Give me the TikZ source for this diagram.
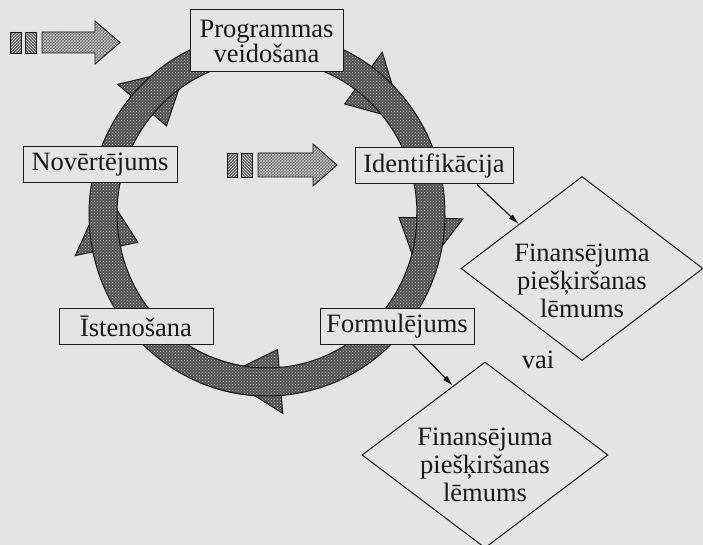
\documentclass[tikz,border=0pt]{standalone}
\usepackage{fontspec}
\setmainfont{Liberation Serif}
\usetikzlibrary{shapes.geometric,patterns,arrows.meta,calc}
\definecolor{bgc}{RGB}{228,228,228}
\definecolor{ink}{RGB}{25,25,25}
\def\RX{164}\def\RY{168}\def\W{14}\def\H{32}\def\L{20}
\newcommand\ringseg[2]{%
  \pgfmathsetmacro\ox{\RX+\W}\pgfmathsetmacro\oy{\RY+\W}%
  \pgfmathsetmacro\ix{\RX-\W}\pgfmathsetmacro\iy{\RY-\W}%
  \pgfmathsetmacro\hx{\RX+\H}\pgfmathsetmacro\hy{\RY+\H}%
  \pgfmathsetmacro\jx{\RX-\H}\pgfmathsetmacro\jy{\RY-\H}%
  \pgfmathsetmacro\te{#2+\L}%
  \path[ringsty] (#1:\ox\space and \oy) arc[start angle=#1, end angle=#2, x radius=\ox, y radius=\oy]
    -- (#2:\hx\space and \hy) -- (\te:\RX\space and \RY) -- (#2:\jx\space and \jy)
    -- (#2:\ix\space and \iy) arc[start angle=#2, end angle=#1, x radius=\ix, y radius=\iy];
}
\newcommand\ringband[2]{%
  \pgfmathsetmacro\ox{\RX+\W}\pgfmathsetmacro\oy{\RY+\W}%
  \pgfmathsetmacro\ix{\RX-\W}\pgfmathsetmacro\iy{\RY-\W}%
  \path[ringfillonly] (#1:\ox\space and \oy) arc[start angle=#1, end angle=#2, x radius=\ox, y radius=\oy]
    -- (#2:\ix\space and \iy) arc[start angle=#2, end angle=#1, x radius=\ix, y radius=\iy] -- cycle;
  \draw[ink, line width=1pt] (#1:\ox\space and \oy) arc[start angle=#1, end angle=#2, x radius=\ox, y radius=\oy];
  \draw[ink, line width=1pt] (#1:\ix\space and \iy) arc[start angle=#1, end angle=#2, x radius=\ix, y radius=\iy];
}
\begin{document}
\begin{tikzpicture}[x=1pt,y=-1pt,
  ringsty/.style={draw=ink, line width=1pt, preaction={fill=black!68}, pattern=crosshatch dots, pattern color=black!25, line join=miter},
  ringfillonly/.style={preaction={fill=black!68}, pattern=crosshatch dots, pattern color=black!25},
  box/.style={draw=ink, line width=1pt, fill=bgc, minimum width=154pt, minimum height=36pt, inner sep=0pt,
    font=\fontsize{26.5}{25}\selectfont, text=ink, align=center},
  dia/.style={draw=ink, line width=1pt, diamond, inner sep=0pt},
  dtext/.style={font=\fontsize{26.5}{28}\selectfont, text=ink, align=center, inner sep=0pt},
  conn/.style={draw=ink, line width=1.2pt, -{Latex[length=11pt,width=6pt]}},
  icon/.style={draw=ink, line width=0.9pt},
  iconfill/.style={fill=black!60}]
\useasboundingbox (0,0) rectangle (703,545);
\fill[bgc] (0,0) rectangle (703,545);

% ring of curved arrows
\begin{scope}[shift={(267,214)}]
  \ringseg{84.4}{168}
  \ringseg{167}{220.4}
  \ringseg{219.4}{306}
  \ringseg{305}{361.4}
  \ringseg{360.4}{445.4}
  \ringband{84.4}{112}
\end{scope}

% icon arrows
\fill[iconfill] (10,32) rectangle (21,53);
\fill[pattern=north east lines, pattern color=black!15] (10,32) rectangle (21,53);
\draw[icon] (10,32) rectangle (21,53);
\fill[iconfill] (25,32) rectangle (36,53);
\fill[pattern=north west lines, pattern color=black!15] (25,32) rectangle (36,53);
\draw[icon] (25,32) rectangle (36,53);
\path[icon, preaction={iconfill}, pattern=crosshatch, pattern color=black!20]
  (42,32) -- (95,32) -- (95,21) -- (120,42.5) -- (95,64) -- (95,53) -- (42,53) -- cycle;

\fill[iconfill] (227,153) rectangle (237,177);
\fill[pattern=north east lines, pattern color=black!15] (227,153) rectangle (237,177);
\draw[icon] (227,153) rectangle (237,177);
\fill[iconfill] (241,153) rectangle (252,177);
\fill[pattern=north west lines, pattern color=black!15] (241,153) rectangle (252,177);
\draw[icon] (241,153) rectangle (252,177);
\path[icon, preaction={iconfill}, pattern=crosshatch, pattern color=black!20]
  (258,153) -- (313,153) -- (313,144) -- (337,165) -- (313,186) -- (313,177) -- (258,177) -- cycle;

% boxes
\node[box, minimum width=153pt, minimum height=62pt] (prog) at (266.5,41) {Programmas\\veidošana};
\node[box] (nov) at (100,165) {Novērtējums};
\node[box, minimum width=158pt] (ident) at (434,166) {Identifikācija};
\node[box] (form) at (397,326) {Formulējums};
\node[box] (ist) at (136,326.5) {Īstenošana};

% diamonds
\node[dia, minimum width=242pt, minimum height=184pt] (d1) at (582,268.5) {};
\node[dtext] (t1) at (582,281) {Finansējuma\\piešķiršanas\\lēmums};
\node[dia, minimum width=246pt, minimum height=186pt] (d2) at (485,455) {};
\node[dtext] (t2) at (485,465) {Finansējuma\\piešķiršanas\\lēmums};
\node[dtext] (vai) at (538,360) {vai};

% connectors
\draw[conn] ($(ident.south west)!0.77!(ident.south east)$) -- ($(d1.north)!0.52!(d1.west)$);
\draw[conn] ($(form.south west)!0.6!(form.south east)$) -- ($(d2.north)!0.26!(d2.west)$);
\end{tikzpicture}
\end{document}
